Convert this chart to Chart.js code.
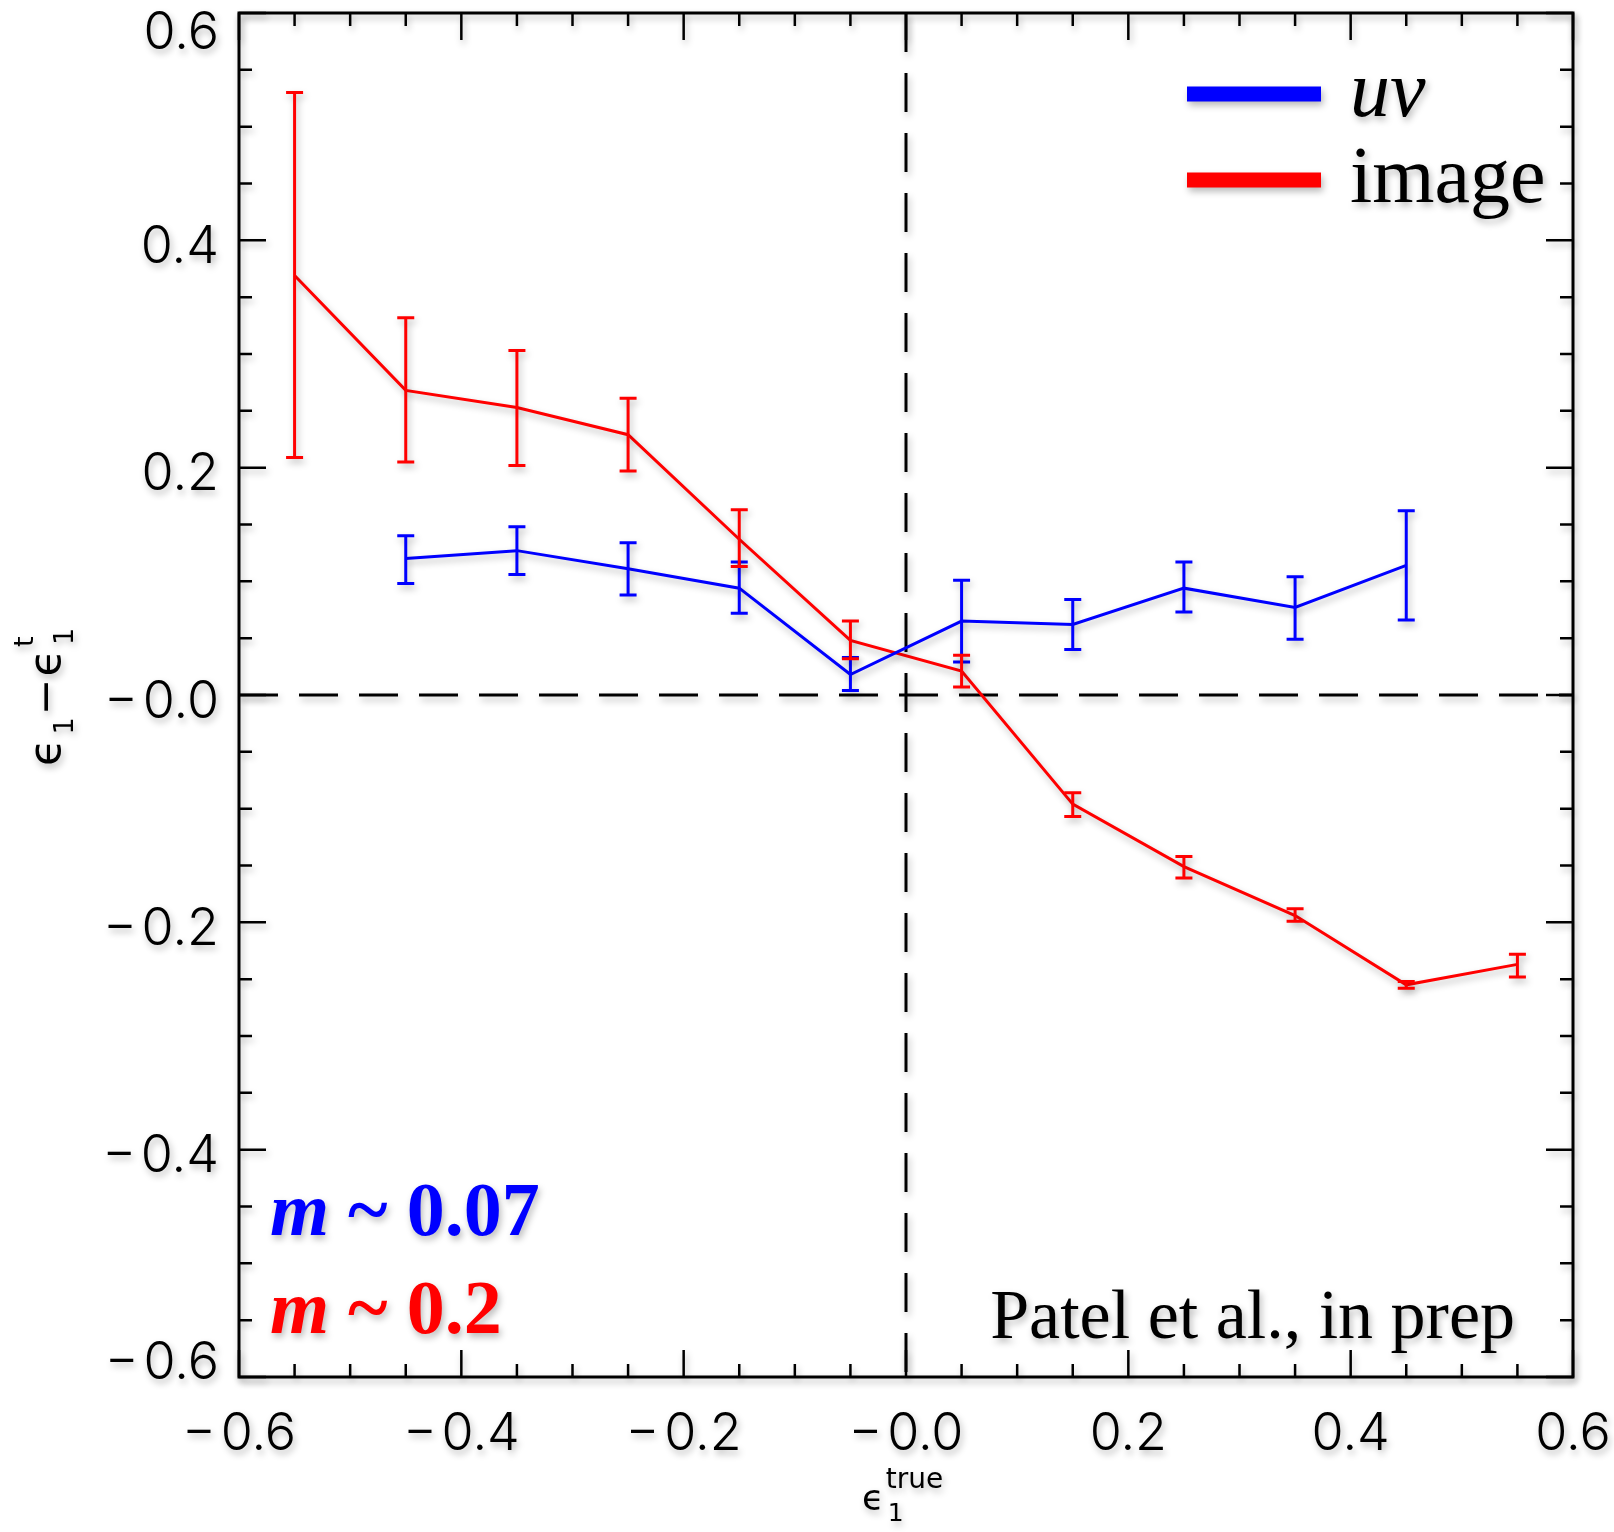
<!DOCTYPE html>
<html lang="en">
<head>
  <meta charset="UTF-8" />
  <title>Ellipticity bias: uv vs image</title>
  <script src="https://cdn.jsdelivr.net/npm/chart.js"></script>
  <style>
    html, body { margin: 0; padding: 0; background: #fff; }
    #wrap { width: 1614px; height: 1532px; }
  </style>
</head>
<body>
  <div id="wrap"><canvas id="biasChart" width="1614" height="1532"></canvas></div>

  <script>
    // bin centres of true ellipticity
    const xUv = [-0.45, -0.35, -0.25, -0.15, -0.05, 0.05, 0.15, 0.25, 0.35, 0.45];
    const xImage = [-0.55, -0.45, -0.35, -0.25, -0.15, -0.05, 0.05, 0.15, 0.25, 0.35, 0.45, 0.55];

    // uv-plane fit: mean bias and error bar ends
    const uvMean = [0.120, 0.127, 0.111, 0.094, 0.018, 0.065, 0.062, 0.094, 0.077, 0.114];
    const uvLow  = [0.098, 0.106, 0.088, 0.072, 0.004, 0.029, 0.040, 0.073, 0.049, 0.066];
    const uvHigh = [0.140, 0.148, 0.134, 0.117, 0.033, 0.101, 0.084, 0.117, 0.104, 0.162];

    // image-plane fit
    const imageMean = [0.369, 0.268, 0.253, 0.229, 0.137, 0.048, 0.021, -0.096, -0.151, -0.194, -0.255, -0.237];
    const imageLow  = [0.209, 0.205, 0.202, 0.197, 0.113, 0.032, 0.007, -0.107, -0.161, -0.199, -0.258, -0.248];
    const imageHigh = [0.530, 0.332, 0.303, 0.261, 0.163, 0.065, 0.035, -0.086, -0.142, -0.188, -0.252, -0.228];

    // axis ticks (labelled) and minor tick values
    const majorTicks = [-0.6, -0.4, -0.2, 0, 0.2, 0.4, 0.6];
    const minorTicks = [-0.6, -0.55, -0.5, -0.45, -0.4, -0.35, -0.3, -0.25, -0.2, -0.15, -0.1, -0.05, 0,
                        0.05, 0.1, 0.15, 0.2, 0.25, 0.3, 0.35, 0.4, 0.45, 0.5, 0.55, 0.6];

    const SANS = "Inter, 'DejaVu Sans', sans-serif";
    const GREEK = "'DejaVu Sans', sans-serif";
    const SERIF = "'Liberation Serif', 'Times New Roman', serif";

    function tickLabel(v) {
      if (Math.abs(v) < 1e-9) return '\u2212\u200A0.0';
      return (v < 0 ? '\u2212\u200A' : '') + Math.abs(v).toFixed(1);
    }

    function points(xs, ys) {
      return xs.map((x, i) => ({ x: x, y: ys[i] }));
    }

    // soft drop shadow on everything, like the original figure
    const shadow = {
      id: 'shadow',
      beforeDraw(chart) {
        const ctx = chart.ctx;
        ctx.shadowColor = 'rgba(0,0,0,0.28)';
        ctx.shadowBlur = 7;
        ctx.shadowOffsetX = 2;
        ctx.shadowOffsetY = 4;
      }
    };

    // dashed lines at x = 0 and y = 0
    const zeroLines = {
      id: 'zeroLines',
      beforeDatasetsDraw(chart) {
        const { ctx, chartArea: a, scales: { x, y } } = chart;
        ctx.save();
        ctx.strokeStyle = '#000';
        ctx.lineWidth = 3;
        ctx.setLineDash([39, 21]);
        ctx.beginPath();
        ctx.moveTo(a.left, y.getPixelForValue(0));
        ctx.lineTo(a.right, y.getPixelForValue(0));
        ctx.moveTo(x.getPixelForValue(0), a.top);
        ctx.lineTo(x.getPixelForValue(0), a.bottom);
        ctx.stroke();
        ctx.restore();
      }
    };

    // vertical error bars with caps
    const errorBars = {
      id: 'errorBars',
      afterDatasetsDraw(chart) {
        const { ctx, scales: { x, y } } = chart;
        const sets = [
          { xs: xUv, lo: uvLow, hi: uvHigh, color: '#0000ff' },
          { xs: xImage, lo: imageLow, hi: imageHigh, color: '#ff0000' }
        ];
        ctx.save();
        ctx.lineWidth = 3;
        sets.forEach(s => {
          ctx.strokeStyle = s.color;
          ctx.beginPath();
          s.xs.forEach((xv, i) => {
            const px = x.getPixelForValue(xv);
            const p1 = y.getPixelForValue(s.lo[i]);
            const p2 = y.getPixelForValue(s.hi[i]);
            ctx.moveTo(px, p1); ctx.lineTo(px, p2);
            ctx.moveTo(px - 8.5, p1); ctx.lineTo(px + 8.5, p1);
            ctx.moveTo(px - 8.5, p2); ctx.lineTo(px + 8.5, p2);
          });
          ctx.stroke();
        });
        ctx.restore();
      }
    };

    // lunate epsilon with a subscript and optional superscript
    function drawEps(ctx, x0, base, size, subSize, supSize, sub, sup) {
      ctx.textAlign = 'left';
      ctx.textBaseline = 'alphabetic';
      ctx.font = size + 'px ' + GREEK;
      ctx.fillText('\u03F5', x0, base);
      const w = ctx.measureText('\u03F5').width;
      ctx.font = subSize + 'px ' + GREEK;
      const sx = x0 + w + size * 0.1;
      ctx.fillText(sub, sx, base + size * 0.3);
      let end = sx + ctx.measureText(sub).width;
      if (sup) {
        ctx.font = supSize + 'px ' + GREEK;
        ctx.fillText(sup, sx - 2, base - size * 0.62);
        end = Math.max(end, sx - 2 + ctx.measureText(sup).width);
      }
      return end;
    }

    // frame, inward ticks, y labels, axis titles, legend and notes
    const decorations = {
      id: 'decorations',
      afterDraw(chart) {
        const { ctx, chartArea: a, scales: { x, y } } = chart;
        ctx.save();
        ctx.strokeStyle = '#000';
        ctx.fillStyle = '#000';

        // ticks on all four sides
        ctx.lineWidth = 2.5;
        ctx.beginPath();
        minorTicks.forEach((v, i) => {
          const len = i % 4 === 0 ? 27 : 13;
          const px = x.getPixelForValue(v);
          const py = y.getPixelForValue(v);
          ctx.moveTo(px, a.bottom); ctx.lineTo(px, a.bottom - len);
          ctx.moveTo(px, a.top); ctx.lineTo(px, a.top + len);
          ctx.moveTo(a.left, py); ctx.lineTo(a.left + len, py);
          ctx.moveTo(a.right, py); ctx.lineTo(a.right - len, py);
        });
        ctx.stroke();
        ctx.lineWidth = 3;
        ctx.strokeRect(a.left, a.top, a.right - a.left, a.bottom - a.top);

        // y tick labels, kept inside the frame height at the ends
        ctx.font = '300 52px ' + SANS;
        ctx.textAlign = 'right';
        ctx.textBaseline = 'alphabetic';
        y.ticks.forEach(t => {
          let mid = y.getPixelForValue(t.value) + 3.5;
          mid = Math.max(a.top + 17, Math.min(a.bottom - 17, mid));
          ctx.fillText(tickLabel(t.value), a.left - 20, mid + 19);
        });

        // x title: eps_1^true
        const cx = (a.left + a.right) / 2;
        drawEps(ctx, cx - 44, a.bottom + 133, 36, 25, 28, '1', 'true');

        // y title: eps_1 - eps_1^t, rotated
        ctx.save();
        ctx.translate(60, (a.top + a.bottom) / 2 + 8);
        ctx.rotate(-Math.PI / 2);
        let px = drawEps(ctx, -63, 0, 44, 27, 27, '1', null);
        ctx.font = '44px ' + GREEK;
        ctx.fillText('\u2212', px + 2, 0);
        px += 2 + ctx.measureText('\u2212').width + 2;
        drawEps(ctx, px, 0, 44, 27, 27, '1', 't');
        ctx.restore();

        // legend
        const rows = [
          { ds: chart.data.datasets[0], font: 'italic 80px ' + SERIF, dy: 81 },
          { ds: chart.data.datasets[1], font: '80px ' + SERIF, dy: 167 }
        ];
        rows.forEach(r => {
          const ly = a.top + r.dy;
          ctx.strokeStyle = r.ds.borderColor;
          ctx.lineWidth = 15;
          ctx.beginPath();
          ctx.moveTo(a.right - 386, ly);
          ctx.lineTo(a.right - 252, ly);
          ctx.stroke();
          ctx.fillStyle = '#000';
          ctx.font = r.font;
          ctx.textAlign = 'left';
          ctx.textBaseline = 'alphabetic';
          ctx.fillText(r.ds.label, a.right - 223, ly + 22);
        });

        // slope notes
        const notes = [
          { text: ' ~ 0.07', color: '#0000ff', base: a.bottom - 142 },
          { text: ' ~ 0.2', color: '#ff0000', base: a.bottom - 44 }
        ];
        notes.forEach(n => {
          ctx.fillStyle = n.color;
          ctx.font = 'italic bold 76px ' + SERIF;
          ctx.fillText('m', a.left + 31, n.base);
          const mw = ctx.measureText('m').width;
          ctx.font = 'bold 76px ' + SERIF;
          ctx.fillText(n.text, a.left + 31 + mw, n.base);
        });

        ctx.fillStyle = '#000';
        ctx.font = '70px ' + SERIF;
        ctx.textAlign = 'right';
        ctx.fillText('Patel et al., in prep', a.right - 58, a.bottom - 39);
        ctx.restore();
      }
    };

    const tickFont = { family: SANS, size: 52, weight: '300' };

    new Chart(document.getElementById('biasChart'), {
      type: 'line',
      data: {
        datasets: [
          {
            label: 'uv',
            data: points(xUv, uvMean),
            borderColor: '#0000ff',
            borderWidth: 3,
            pointRadius: 0,
            tension: 0,
            fill: false
          },
          {
            label: 'image',
            data: points(xImage, imageMean),
            borderColor: '#ff0000',
            borderWidth: 3,
            pointRadius: 0,
            tension: 0,
            fill: false
          }
        ]
      },
      options: {
        responsive: false,
        animation: false,
        layout: { padding: { top: 13, right: 41, left: 0, bottom: 0 } },
        plugins: {
          legend: { display: false },
          tooltip: { enabled: false }
        },
        scales: {
          x: {
            type: 'linear',
            min: -0.6,
            max: 0.6,
            afterBuildTicks: s => { s.ticks = majorTicks.map(v => ({ value: v })); },
            afterFit: s => { s.height = 155; s.paddingLeft = 0; s.paddingRight = 0; },
            grid: { display: false, drawTicks: false },
            border: { display: false },
            ticks: { callback: tickLabel, font: tickFont, color: '#000', padding: 26, maxRotation: 0, autoSkip: false }
          },
          y: {
            type: 'linear',
            min: -0.6,
            max: 0.6,
            afterBuildTicks: s => { s.ticks = majorTicks.map(v => ({ value: v })); },
            afterFit: s => { s.width = 239; s.paddingTop = 0; s.paddingBottom = 0; },
            grid: { display: false, drawTicks: false },
            border: { display: false },
            ticks: { display: false }
          }
        }
      },
      plugins: [shadow, zeroLines, errorBars, decorations]
    });
  </script>
</body>
</html>
